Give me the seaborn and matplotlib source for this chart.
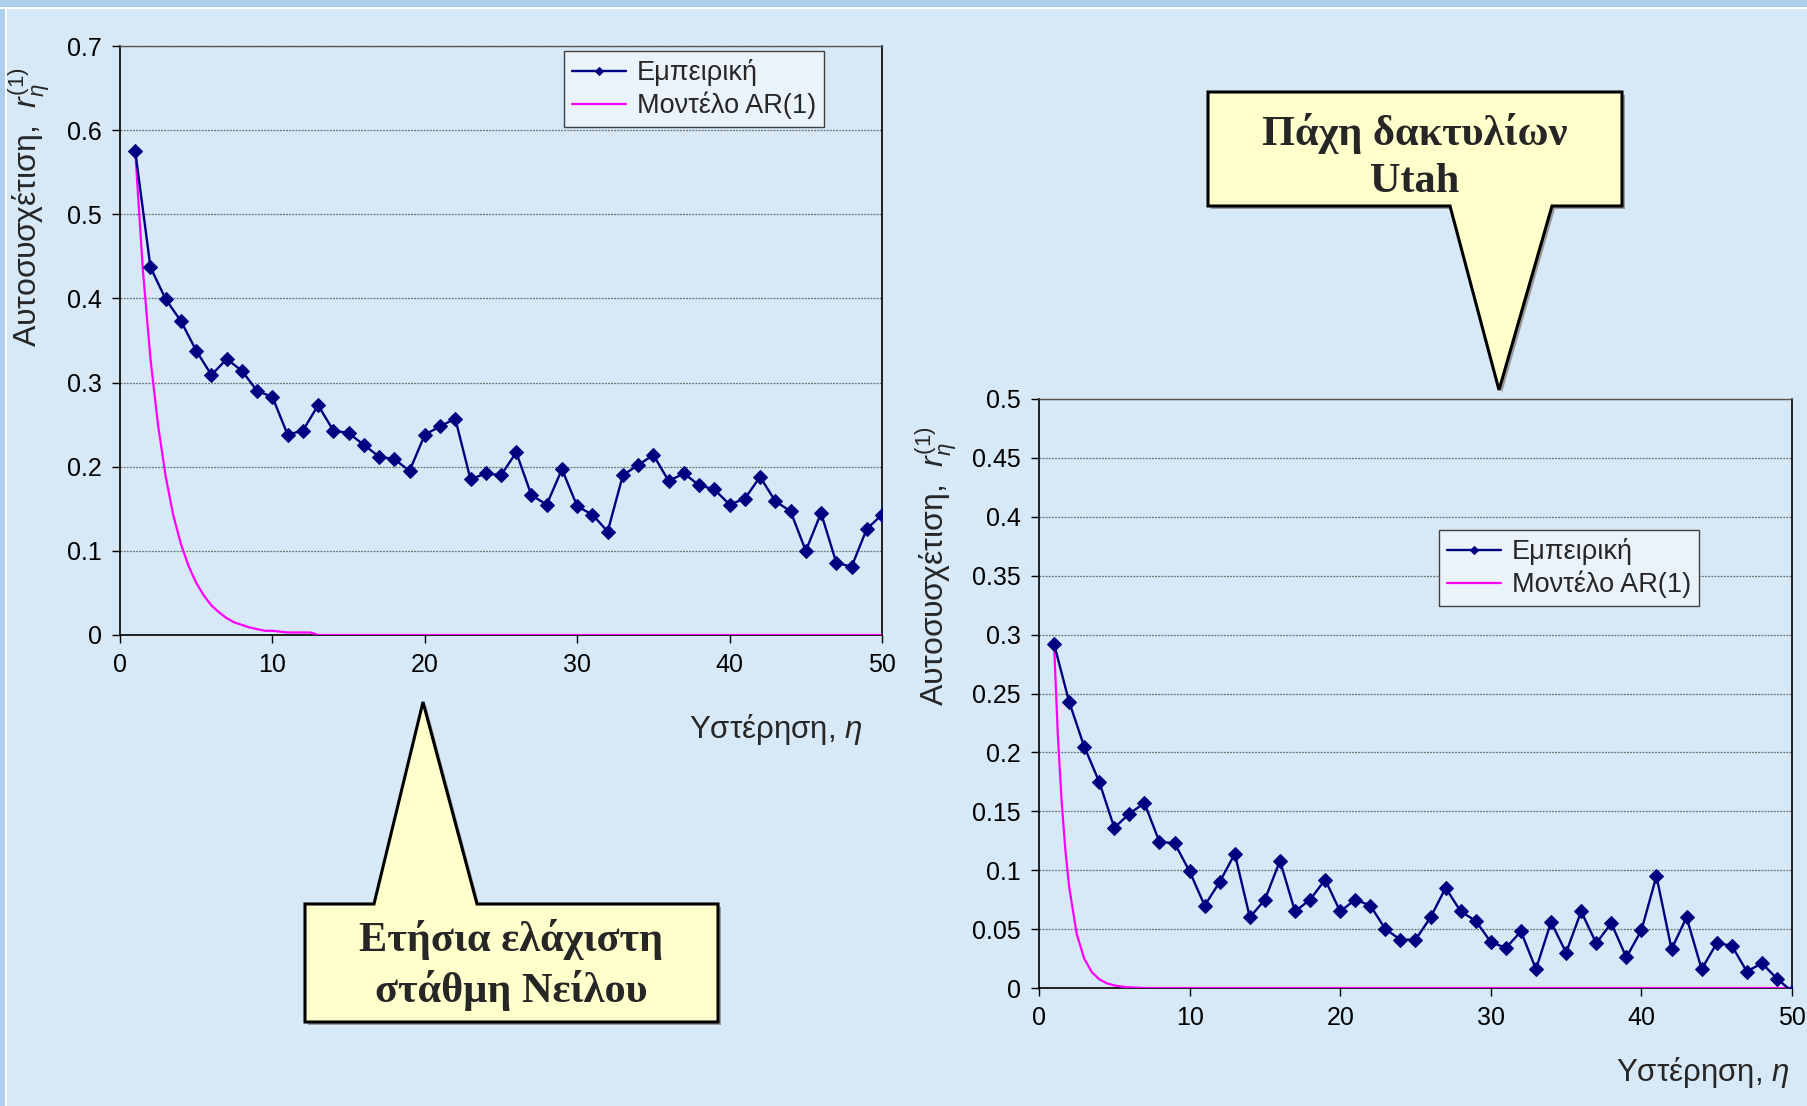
import numpy as np
import pandas as pd
import matplotlib
matplotlib.use("Agg")
import matplotlib.pyplot as plt
from matplotlib.patches import Polygon, Rectangle
from matplotlib.ticker import FuncFormatter
import seaborn as sns

# ---------------- data ----------------
lags = list(range(1, 51))
nile_emp = [0.575, 0.437, 0.399, 0.373, 0.338, 0.309, 0.328, 0.314, 0.290, 0.283,
            0.238, 0.243, 0.273, 0.243, 0.240, 0.226, 0.212, 0.209, 0.195, 0.238,
            0.248, 0.257, 0.185, 0.192, 0.190, 0.217, 0.166, 0.155, 0.197, 0.153,
            0.143, 0.123, 0.190, 0.202, 0.214, 0.183, 0.192, 0.178, 0.173, 0.155,
            0.162, 0.188, 0.159, 0.147, 0.100, 0.145, 0.086, 0.081, 0.126, 0.143]
nile_ar_lag = [1, 1.5, 2, 2.5, 3, 3.5, 4, 4.5, 5, 5.5, 6, 6.5, 7, 7.5, 8, 8.5, 9,
               9.5, 10, 10.5, 11, 11.5, 12, 12.5, 13, 50]
nile_ar = [0.575, 0.434, 0.328, 0.249, 0.188, 0.142, 0.108, 0.082, 0.062, 0.047,
           0.035, 0.027, 0.020, 0.015, 0.012, 0.009, 0.007, 0.005, 0.005, 0.004,
           0.003, 0.003, 0.003, 0.003, 0.0, 0.0]

utah_emp = [0.292, 0.243, 0.205, 0.175, 0.136, 0.148, 0.157, 0.124, 0.123, 0.099,
            0.070, 0.090, 0.114, 0.060, 0.075, 0.108, 0.065, 0.075, 0.092, 0.065,
            0.075, 0.070, 0.050, 0.041, 0.041, 0.060, 0.085, 0.065, 0.057, 0.039,
            0.034, 0.048, 0.016, 0.056, 0.030, 0.065, 0.038, 0.055, 0.026, 0.049,
            0.095, 0.033, 0.060, 0.016, 0.038, 0.036, 0.014, 0.021, 0.008, -0.003]
utah_ar_lag = [1, 1.25, 1.5, 1.75, 2, 2.5, 3, 3.5, 4, 4.5, 5, 5.5, 6, 7, 50]
utah_ar = [0.292, 0.215, 0.159, 0.117, 0.086, 0.046, 0.025, 0.0136, 0.0074, 0.004,
           0.0022, 0.0012, 0.0006, 0.0, 0.0]

x_ticks = [0, 10, 20, 30, 40, 50]
nile_yticks = [0, 0.1, 0.2, 0.3, 0.4, 0.5, 0.6, 0.7]
utah_yticks = [0, 0.05, 0.1, 0.15, 0.2, 0.25, 0.3, 0.35, 0.4, 0.45, 0.5]
series_names = ["Εμπειρική", "Μοντέλο AR(1)"]
xlabel_text = "Υστέρηση, $\\eta$"
ylabel_text = "Αυτοσυσχέτιση,  $r_\\eta^{(1)}$"
callout_nile = "Ετήσια ελάχιστη\nστάθμη Νείλου"
callout_utah = "Πάχη δακτυλίων\nUtah"

# ---------------- style ----------------
sns.set_style("ticks")
plt.rcParams["font.family"] = ["Liberation Sans", "DejaVu Sans"]
plt.rcParams["mathtext.fontset"] = "custom"
plt.rcParams["mathtext.rm"] = "Liberation Sans"
plt.rcParams["mathtext.it"] = "Liberation Sans:italic"
plt.rcParams["mathtext.bf"] = "Liberation Sans:bold"

BG = "#D7E8F6"
STRIP = "#AECFEC"
NAVY = "#000080"
MAGENTA = "#FF00FF"
CALLOUT = "#FFFFCC"

W, H = 1808, 1106
fig = plt.figure(figsize=(W / 100, H / 100), dpi=100, facecolor=BG)


def fx(px):
    return px / W


def fy(py):
    return 1 - py / H


# page frame strips
fig.patches.append(Rectangle((0, fy(7)), 1, 7 / H, transform=fig.transFigure,
                             facecolor=STRIP, edgecolor="none", zorder=0))
fig.patches.append(Rectangle((0, fy(9)), 1, 2 / H, transform=fig.transFigure,
                             facecolor="white", edgecolor="none", zorder=0))
fig.patches.append(Rectangle((0, 0), 5 / W, fy(9), transform=fig.transFigure,
                             facecolor=STRIP, edgecolor="none", zorder=0))
fig.patches.append(Rectangle((5 / W, 0), 2 / W, fy(9), transform=fig.transFigure,
                             facecolor="white", edgecolor="none", zorder=0))


def make_axes(x0, y0, x1, y1):
    return fig.add_axes([fx(x0), fy(y1), fx(x1) - fx(x0), (y1 - y0) / H])


ax1 = make_axes(120, 46, 882, 635)
ax2 = make_axes(1039, 399, 1792, 988)

fmt = FuncFormatter(lambda v, p: f"{v:g}")


def draw(ax, emp, ar_lag, ar, yticks, leg_xy, xlab_xy, ylab_xy):
    ax.set_facecolor("none")
    df_emp = pd.DataFrame({"lag": lags, "r": emp})
    df_ar = pd.DataFrame({"lag": ar_lag, "r": ar})
    sns.lineplot(data=df_emp, x="lag", y="r", ax=ax, color=NAVY, lw=1.7,
                 marker="D", markersize=7, markeredgecolor=NAVY,
                 label=series_names[0], zorder=4)
    sns.lineplot(data=df_ar, x="lag", y="r", ax=ax, color=MAGENTA, lw=1.6,
                 label=series_names[1], zorder=3)
    ax.set_xlim(0, 50)
    ax.set_ylim(yticks[0], yticks[-1])
    ax.set_xticks(x_ticks)
    ax.set_yticks(yticks)
    ax.xaxis.set_major_formatter(fmt)
    ax.yaxis.set_major_formatter(fmt)
    ax.tick_params(axis="both", direction="out", length=6, width=1,
                   labelsize=18, colors="black", pad=7)
    ax.yaxis.grid(True, color="#6f6f6f", lw=0.9, ls=(0, (1.5, 1)))
    ax.xaxis.grid(False)
    for s in ["left", "bottom", "right"]:
        ax.spines[s].set_color("black")
        ax.spines[s].set_linewidth(1.2)
        ax.spines[s].set_visible(True)
    ax.spines["top"].set_color("#555555")
    ax.spines["top"].set_linewidth(1.0)
    ax.spines["top"].set_visible(True)
    ax.set_xlabel(xlabel_text, fontsize=22.5)
    ax.xaxis.set_label_coords(*xlab_xy)
    ax.xaxis.label.set_ha("right")
    ax.xaxis.label.set_va("center")
    ax.set_ylabel(ylabel_text, fontsize=23)
    ax.yaxis.set_label_coords(*ylab_xy)
    ax.yaxis.label.set_va("center")
    ax.yaxis.label.set_ha("center")
    leg = ax.legend(loc="upper left", bbox_to_anchor=(fx(leg_xy[0]), fy(leg_xy[1])),
                    bbox_transform=fig.transFigure, frameon=True, fancybox=False,
                    edgecolor="#404040", facecolor="#EAF2FA", framealpha=1,
                    fontsize=19.5, handlelength=2.0, borderpad=0.3,
                    labelspacing=0.2, handletextpad=0.4, borderaxespad=0,
                    numpoints=1)
    leg.get_frame().set_linewidth(1.0)
    for h in leg.legend_handles:
        h.set_markersize(4.5)


draw(ax1, nile_emp, nile_ar_lag, nile_ar, nile_yticks,
     (564, 51), (0.974, -0.160), (-0.119, 0.727))
draw(ax2, utah_emp, utah_ar_lag, utah_ar, utah_yticks,
     (1439, 530), (0.997, -0.143), (-0.137, 0.716))


# ---------------- callouts ----------------
def callout(pts, text, cx, cy):
    shadow = [(fx(x + 3), fy(y + 3)) for x, y in pts]
    fig.patches.append(Polygon(shadow, closed=True, transform=fig.transFigure,
                               facecolor="#9a9a9a", edgecolor="none", zorder=5))
    poly = [(fx(x), fy(y)) for x, y in pts]
    fig.patches.append(Polygon(poly, closed=True, transform=fig.transFigure,
                               facecolor=CALLOUT, edgecolor="black", lw=2.2,
                               joinstyle="miter", zorder=6))
    fig.text(fx(cx), fy(cy), text, ha="center", va="center", fontsize=30.5,
             fontweight="bold", family=["Liberation Serif", "DejaVu Serif"],
             linespacing=1.3, zorder=7)


callout([(305, 904), (374, 904), (423, 702), (477, 904), (718, 904),
         (718, 1022), (305, 1022)], callout_nile, 511, 965)
callout([(1208, 92), (1622, 92), (1622, 206), (1552, 206), (1499, 390),
         (1450, 206), (1208, 206)], callout_utah, 1415, 157)

fig.savefig("out.png", dpi=100, facecolor=BG)
